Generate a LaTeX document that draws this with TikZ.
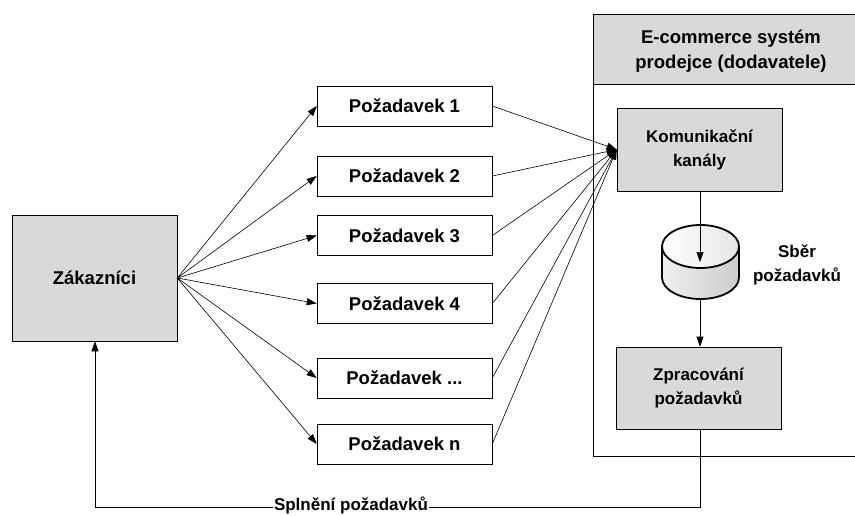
\documentclass[tikz,border=0pt]{standalone}
\usepackage{fontspec}
\setmainfont{Liberation Sans}
\usetikzlibrary{arrows.meta}
\definecolor{boxgray}{HTML}{D9D9D9}
\begin{document}
\begin{tikzpicture}[x=1pt,y=-1pt,
  txt/.style={font=\bfseries\fontsize{18.5}{25}\selectfont, align=center},
  inner/.style={font=\bfseries\fontsize{17}{24}\selectfont, align=center},
  graybox/.style={draw, fill=boxgray, inner sep=0pt, line width=0.6pt, txt},
  reqbox/.style={draw, fill=white, inner sep=0pt, line width=0.6pt, minimum width=175pt, minimum height=40pt, txt},
  arr/.style={-{Triangle[length=10pt,width=7pt]}, line width=0.6pt},
  ln/.style={line width=0.6pt}]
\useasboundingbox (0,0) rectangle (855,515);
\clip (0,0) rectangle (855,515);
% system frame
\draw[ln] (593,14) rectangle (880,456);
\node[draw, fill=boxgray, line width=0.6pt, minimum width=287pt, minimum height=70pt, anchor=north west, inner sep=0pt] (head) at (593,14) {};
\node[txt] (headtxt) at (731,51) {E-commerce systém\\prodejce (dodavatele)};
% customers
\node[graybox, minimum width=165pt, minimum height=126pt] (zak) at (94.5,278) {Zákazníci};
% requests
\node[reqbox] (p1) at (404.5,106) {Požadavek 1};
\node[reqbox] (p2) at (404.5,176) {Požadavek 2};
\node[reqbox] (p3) at (404.5,235.5) {Požadavek 3};
\node[reqbox] (p4) at (404.5,303.5) {Požadavek 4};
\node[reqbox] (p5) at (404.5,378) {Požadavek ...};
\node[reqbox] (p6) at (404.5,444) {Požadavek n};
% system inner
\node[graybox, inner, minimum width=165pt, minimum height=83pt] (kom) at (699.5,149.5) {Komunikační\\kanály};
\node[graybox, inner, minimum width=165pt, minimum height=82pt] (zpr) at (698.5,388) {Zpracování\\požadavků};
% cylinder
\shade[left color=gray!12, right color=gray!40] (662,246.5) -- (662,277.5) arc[start angle=180, end angle=360, x radius=38.5pt, y radius=21.5pt] -- (739,246.5) -- cycle;
\shade[left color=white, right color=gray!20] (700.5,246.5) ellipse[x radius=38.5pt, y radius=21.5pt];
\draw[line width=1.8pt] (662,246.5) -- (662,277.5) arc[start angle=180, end angle=360, x radius=38.5pt, y radius=21.5pt] -- (739,246.5);
\draw[line width=1.8pt] (700.5,246.5) ellipse[x radius=38.5pt, y radius=21.5pt];
\coordinate (cylin) at (700,262);
\coordinate (cylbot) at (700,299);
\node[inner] (sber) at (797,265) {Sběr\\požadavků};
% arrows
\foreach \p in {p1,p2,p3,p4,p5,p6} {
  \draw[arr] (zak.east) -- (\p.west);
  \draw[arr] (\p.east) -- (kom.west);
}
\draw[arr] (kom.south -| cylin) -- (cylin);
\draw[arr] (cylbot) -- (cylbot |- zpr.north);
% feedback
\coordinate (fb1) at (700,507);
\coordinate (fb2) at (95,507);
\draw[arr] (zpr.south -| fb1) -- (fb1) -- (fb2) -- (zak.south -| fb2);
\node[fill=white, inner sep=1pt, font=\bfseries\fontsize{17}{20}\selectfont] (spl) at (351,505) {Splnění požadavků};
\end{tikzpicture}
\end{document}
